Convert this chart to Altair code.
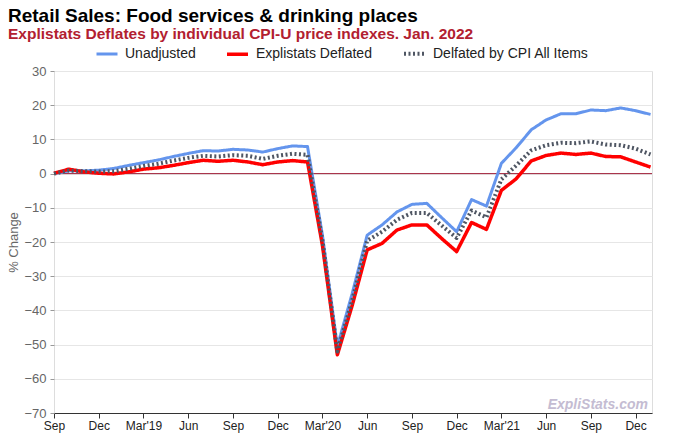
import altair as alt
import pandas as pd

# ---- data ----
months = ["Sep'18", "Oct'18", "Nov'18", "Dec'18", "Jan'19", "Feb'19", "Mar'19", "Apr'19",
          "May'19", "Jun'19", "Jul'19", "Aug'19", "Sep'19", "Oct'19", "Nov'19", "Dec'19",
          "Jan'20", "Feb'20", "Mar'20", "Apr'20", "May'20", "Jun'20", "Jul'20", "Aug'20",
          "Sep'20", "Oct'20", "Nov'20", "Dec'20", "Jan'21", "Feb'21", "Mar'21", "Apr'21",
          "May'21", "Jun'21", "Jul'21", "Aug'21", "Sep'21", "Oct'21", "Nov'21", "Dec'21",
          "Jan'22"]

unadjusted = [0.0, 0.8, 0.8, 1.0, 1.5, 2.4, 3.2, 4.0, 5.0, 5.9, 6.7, 6.6, 7.1, 6.9, 6.3, 7.3,
              8.1, 7.9, -18.0, -50.5, -35.0, -18.0, -15.0, -11.2, -9.0, -8.7, -12.9, -17.0,
              -7.6, -9.5, 3.0, 7.6, 12.8, 15.7, 17.5, 17.5, 18.6, 18.4, 19.2, 18.4, 17.3]

explistats = [0.1, 1.3, 0.5, 0.1, -0.1, 0.5, 1.3, 1.7, 2.4, 3.2, 3.9, 3.6, 3.9, 3.4, 2.6, 3.4,
              3.8, 3.4, -21.0, -53.0, -38.5, -22.3, -20.4, -16.5, -15.0, -15.0, -19.0, -22.8,
              -14.3, -16.3, -4.9, -1.5, 3.7, 5.3, 6.0, 5.6, 6.0, 5.0, 4.9, 3.4, 1.9]

cpi_all = [0.0, 0.9, 0.7, 0.6, 0.7, 1.4, 2.2, 2.9, 3.8, 4.6, 5.2, 5.0, 5.4, 5.2, 4.3, 5.2,
           5.8, 5.5, -19.5, -52.0, -37.0, -19.6, -17.0, -13.5, -11.5, -11.5, -15.2, -18.8,
           -10.8, -12.8, -1.7, 2.4, 6.8, 8.3, 9.0, 8.9, 9.4, 8.5, 8.3, 7.3, 5.6]

series_names = ["Unadjusted", "Explistats Deflated", "Delfated by CPI All Items"]
series_colors = ["#6495ED", "#FF0000", "#4F5663"]

tick_positions = [0, 3, 6, 9, 12, 15, 18, 21, 24, 27, 30, 33, 36, 39]
tick_labels = ["Sep", "Dec", "Mar'19", "Jun", "Sep", "Dec", "Mar'20", "Jun", "Sep", "Dec",
               "Mar'21", "Jun", "Sep", "Dec"]

y_ticks = [30, 20, 10, 0, -10, -20, -30, -40, -50, -60, -70]

rows = []
for name, vals in zip(series_names, [unadjusted, explistats, cpi_all]):
    for i, v in enumerate(vals):
        rows.append({"idx": i, "month": months[i], "series": name, "value": v})
df = pd.DataFrame(rows)

FONT = "Liberation Sans"
label_js = "[" + ",".join('"' + t + '"' for t in tick_labels) + "]"

x_enc = alt.X("idx:Q",
              scale=alt.Scale(domain=[0, 40.1], nice=False, zero=False),
              axis=alt.Axis(values=tick_positions,
                            labelExpr=label_js + "[round(datum.value/3)]",
                            title=None, grid=False, domain=True, domainColor="#333333",
                            tickColor="#333333", tickSize=5, labelColor="#222222",
                            labelFontSize=12, labelFont=FONT, labelPadding=2,
                            labelFlush=False, labelOverlap=False))
y_axis = alt.Axis(values=y_ticks, title="% Change", titleColor="#666666",
                  titleFontSize=13, titleFontWeight="normal", titleFont=FONT,
                  titlePadding=3, domain=False, tickColor="#999999", tickSize=4,
                  labelColor="#666666", labelFontSize=13, labelFont=FONT,
                  labelPadding=4, labelOverlap=False, labelFlush=False,
                  grid=True, gridColor="#E6E6E6")
y_scale = alt.Scale(domain=[-70, 30], nice=False)
y_enc = alt.Y("value:Q", scale=y_scale, axis=y_axis)

leg = dict(title=None, orient="none", direction="horizontal",
           legendX=41, legendY=-30, symbolType="stroke",
           symbolSize=441, labelFontSize=14, labelFont=FONT,
           labelColor="#222222", labelOffset=6, columnPadding=24)

zero_df = pd.DataFrame({"value": [0]})
zero_rule = alt.Chart(zero_df).mark_rule(color="#A0203A", strokeWidth=1).encode(y=y_enc)

lines = alt.Chart(df).mark_line(strokeJoin="round", strokeCap="butt").encode(
    x=x_enc,
    y=y_enc,
    color=alt.Color("series:N", sort=series_names,
                    scale=alt.Scale(domain=series_names, range=series_colors),
                    legend=alt.Legend(**leg)),
    strokeDash=alt.StrokeDash("series:N", sort=series_names,
                              scale=alt.Scale(domain=series_names,
                                              range=[[1, 0], [1, 0], [2, 2.5]]),
                              legend=alt.Legend(**leg)),
    strokeWidth=alt.StrokeWidth("series:N", sort=series_names,
                                scale=alt.Scale(domain=series_names, range=[3, 4, 3]),
                                legend=alt.Legend(**leg)),
    order=alt.Order("idx:Q"),
)

wm_df = pd.DataFrame({"t": ["ExpliStats.com"]})
watermark = alt.Chart(wm_df).mark_text(
    align="right", baseline="alphabetic", font=FONT, fontSize=14,
    fontWeight="bold", fontStyle="italic", color="#C4BCD2"
).encode(text="t:N", x=alt.value(594), y=alt.value(338))

chart = alt.layer(zero_rule, lines, watermark).properties(
    width=598, height=342,
    title=alt.TitleParams(
        text="Retail Sales: Food services & drinking places",
        subtitle="Explistats Deflates by individual CPI-U price indexes. Jan. 2022",
        anchor="start", frame="group", dx=-46, offset=-1,
        font=FONT, fontSize=19, fontWeight="bold", color="#000000",
        subtitleFont=FONT, subtitleFontSize=15.5, subtitleFontWeight="bold",
        subtitleColor="#B22030", subtitlePadding=1),
    autosize=alt.AutoSizeParams(type="none"),
    padding={"left": 46, "top": 63, "right": 20, "bottom": 21},
).configure_view(stroke=None).configure(background="white")

chart.save("out.html", embed_options={"renderer": "svg", "actions": False})
